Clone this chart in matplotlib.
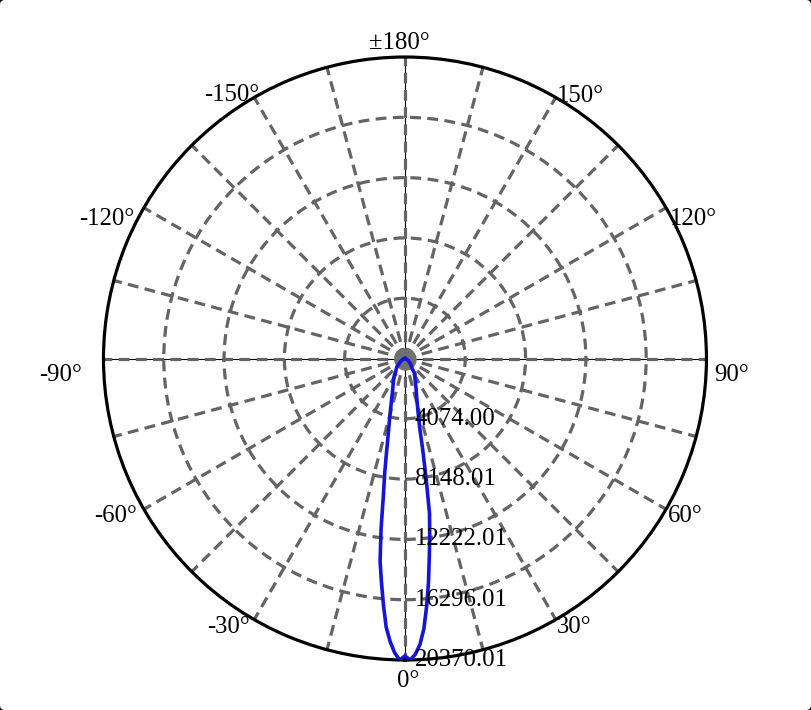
import numpy as np
import matplotlib
matplotlib.use("Agg")
import matplotlib.pyplot as plt
from matplotlib.patches import FancyBboxPatch

plt.rcParams['font.family'] = ['Liberation Serif', 'DejaVu Serif']

# luminous intensity (cd) vs angle (deg)
angles = [-180, -90, -75, -60, -44, -35, -32, -30, -25, -20, -17, -14, -12, -11, -10,
          -9, -8, -7, -6, -5, -4, -3, -2, -1, 0, 1, 2, 3, 4, 5, 6, 7, 8, 9, 10,
          11, 12, 14, 17, 20, 26, 30, 33, 35, 45, 60, 75, 90, 180]
intensity = [0, 0, 90, 300, 800, 1100, 1360, 1500, 1880, 2500, 3200, 4350, 5600, 6600, 7900,
             9300, 11600, 13800, 15200, 16700, 18200, 19150, 19900, 20370, 20100, 20370, 20000, 19350, 18300, 16800, 15200, 13500, 12000, 10600, 8200,
             6300, 4800, 3600, 2700, 2200, 1550, 1300, 1250, 850, 550, 250, 80, 0, 0]

r_max = 20370.01
r_ticks = [4074.00, 8148.01, 12222.01, 16296.01, 20370.01]
r_labels = ['4074.00', '8148.01', '12222.01', '16296.01', '20370.01']
angle_labels = ['0°', '30°', '60°', '90°', '120°', '150°', '±180°',
                '-150°', '-120°', '-90°', '-60°', '-30°']
# where each angle label sits, in pixels from the polar centre (x right, y down)
label_offsets = [(3, 322), (169, 268), (280, 157), (327, 16), (288, -140), (175, -263),
                 (-6, -316), (-173, -264), (-298, -140), (-344, 16), (-289, 157), (-176, 268)]

fig = plt.figure(figsize=(8.11, 7.10), dpi=100)
fig.patch.set_facecolor('black')
fig.patches.append(FancyBboxPatch((0, 0), 1, 1,
                                  boxstyle="round,pad=0,rounding_size=0.006",
                                  mutation_aspect=811 / 710,
                                  transform=fig.transFigure, facecolor='white',
                                  edgecolor='none', zorder=-10))

ax = fig.add_axes([0.1276, 0.0704, 0.7435, 0.8493], projection='polar')
ax.set_facecolor('white')
ax.set_theta_zero_location('S')
ax.set_theta_direction(1)
ax.set_ylim(0, r_max)

ax.set_thetagrids(np.arange(0, 360, 15), labels=[''] * 24)
ax.set_rgrids(r_ticks[:-1], labels=[''] * 4)
ax.grid(True, color='#646464', ls=(0, (3.4, 2.0)), lw=2.3)
ax.tick_params(length=0, pad=0)
ax.spines['polar'].set_color('black')
ax.spines['polar'].set_linewidth(2.3)

# thin black cross under the dashed grid
ax.plot(np.radians([0, 0, 180]), [r_max, 0, r_max], color='black', lw=0.8, zorder=1)
ax.plot(np.radians([90, 0, -90]), [r_max, 0, r_max], color='black', lw=0.8, zorder=1)
ax.plot([0], [0], 'o', color='#707070', ms=15, zorder=2)

ax.plot(np.radians(angles), intensity, color='#1414dc', lw=2.6, zorder=5)

for r, lab in zip(r_ticks, r_labels):
    ax.annotate(lab, xy=(0, r), xytext=(10, 0), textcoords='offset pixels',
                ha='left', va='center', fontsize=17.8, zorder=6)

for lab, (dx, dy) in zip(angle_labels, label_offsets):
    ax.annotate(lab, xy=(0.5, 0.5), xycoords='axes fraction', xytext=(dx, -dy),
                textcoords='offset pixels', ha='center', va='center', fontsize=17.8,
                annotation_clip=False)

fig.savefig('out.png', dpi=100, facecolor=fig.get_facecolor())
